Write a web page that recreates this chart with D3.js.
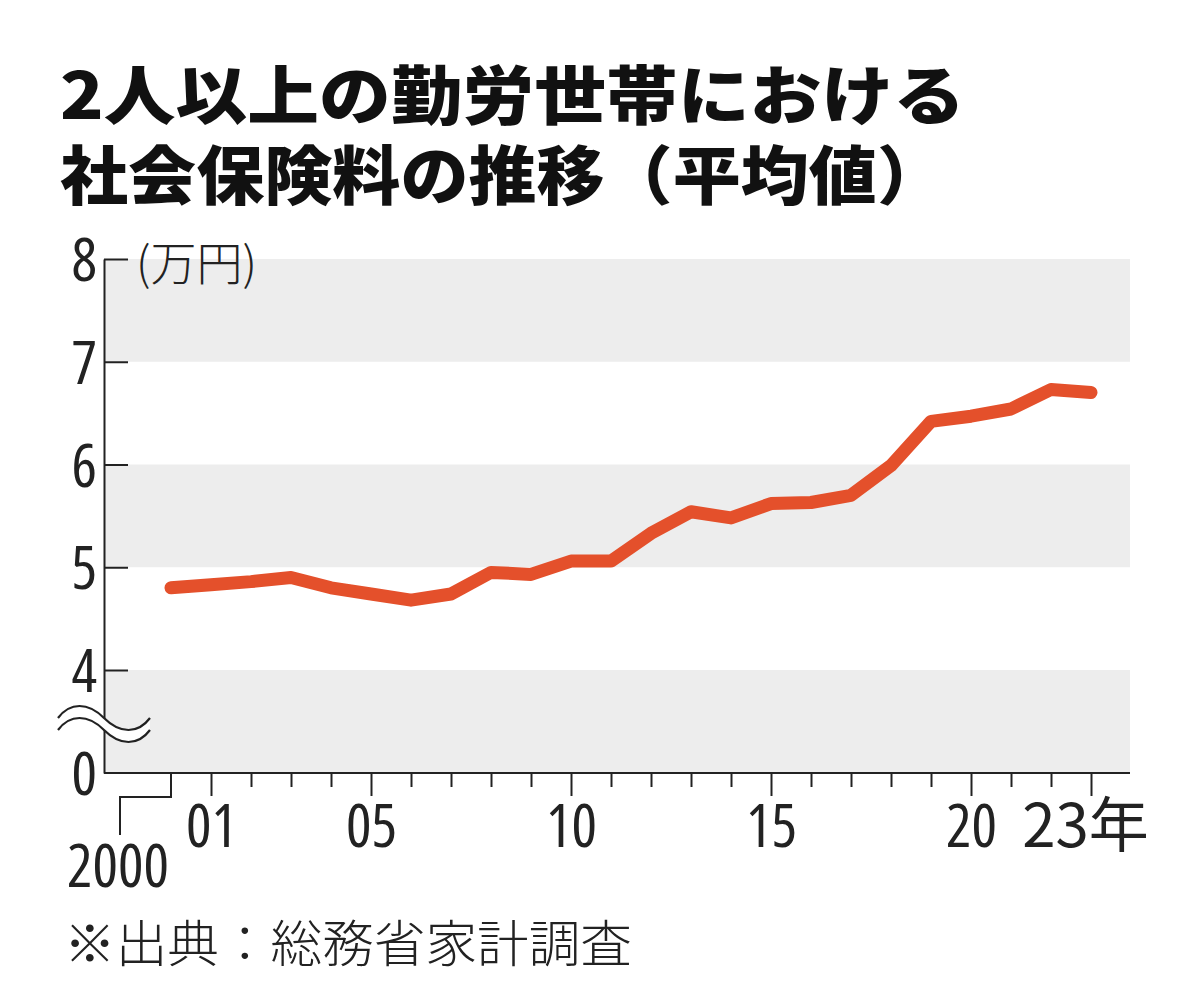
<!DOCTYPE html>
<html><head><meta charset="utf-8">
<script src="https://cdn.jsdelivr.net/npm/d3@7"></script>
<style>
html,body{margin:0;padding:0;background:#fff;}
svg{display:block;}
.num{font-family:"Open Sans","Liberation Sans",sans-serif;font-weight:380;font-stretch:87.5%;fill:#222;}
.jp{font-family:"Noto Sans CJK JP",sans-serif;}
</style></head>
<body>
<svg id="c" width="1200" height="1008"></svg>
<script>
const titleLines = ["2人以上の勤労世帯における", "社会保険料の推移（平均値）"];
const unitLabel = "(万円)";
const sourceNote = "※出典：総務省家計調査";
const years = [2000,2001,2002,2003,2004,2005,2006,2007,2008,2009,2010,2011,2012,2013,2014,2015,2016,2017,2018,2019,2020,2021,2022,2023];
const premiums = [4.80,4.83,4.86,4.90,4.80,4.74,4.68,4.74,4.95,4.93,5.06,5.06,5.33,5.54,5.48,5.62,5.63,5.70,5.99,6.42,6.47,6.54,6.73,6.70];
const yTicks = [0,4,5,6,7,8];
const bandRanges = [[7,8],[5,6],[0,4]];
const majorYears = [2001,2005,2010,2015,2020,2023];
const majorLabels = ["01","05","10","15","20","23年"];
const firstYearLabel = "2000";

const svg = d3.select("#c");
const x = d3.scaleLinear().domain([2000,2023]).range([171,1091]);
const y = d3.scaleLinear().domain([0,4,8]).range([773,670,259]);
const plotL = 104, plotR = 1130;

// title (one text element, two lines)
const title = svg.append("text").attr("class","jp")
  .attr("font-size",64).attr("font-weight",900).attr("fill","#111");
title.selectAll("tspan").data(titleLines).join("tspan")
  .attr("x",60).attr("y",(d,i)=>119+i*80)
  .attr("textLength",(d,i)=>i===0?905:885).attr("lengthAdjust","spacingAndGlyphs")
  .text(d=>d);

// bands
svg.append("g").selectAll("rect").data(bandRanges).join("rect")
  .attr("x",plotL+1).attr("width",plotR-plotL-1)
  .attr("y",d=>y(d[1])).attr("height",d=>y(d[0])-y(d[1]))
  .attr("fill","#ededed");

// y axis
const yAxis = svg.append("g").attr("transform",`translate(${plotL},0)`)
  .call(d3.axisLeft(y).tickValues(yTicks).tickSize(-24).tickSizeOuter(0).tickPadding(7).tickFormat(d3.format("d")));
yAxis.select(".domain").attr("stroke","#222").attr("stroke-width",2);
yAxis.selectAll(".tick line").attr("stroke","#222").attr("stroke-width",2)
  .filter(d=>d===0).remove();
yAxis.selectAll(".tick text").attr("class","num").attr("font-size",60).attr("fill","#222")
  .attr("dy","0.36em");

// unit
svg.append("text").attr("class","jp").attr("x",136).attr("y",280)
  .attr("font-size",46).attr("font-weight",300).attr("fill","#222").text(unitLabel);

// x axis line
svg.append("line").attr("x1",plotL).attr("x2",plotR).attr("y1",y(0)).attr("y2",y(0))
  .attr("stroke","#222").attr("stroke-width",2);

// minor ticks
const xMinor = svg.append("g").attr("transform",`translate(0,${y(0)})`)
  .call(d3.axisBottom(x).tickValues(years.filter(v=>v!==2000 && !majorYears.includes(v))).tickSize(14).tickFormat(""));
xMinor.select(".domain").remove();
xMinor.selectAll(".tick line").attr("stroke","#222").attr("stroke-width",2);

// major ticks
const xMajor = svg.append("g").attr("transform",`translate(0,${y(0)})`)
  .call(d3.axisBottom(x).tickValues(majorYears).tickSize(23).tickPadding(8)
    .tickFormat((d,i)=>majorLabels[i]));
xMajor.select(".domain").remove();
xMajor.selectAll(".tick line").attr("stroke","#222").attr("stroke-width",2);
xMajor.selectAll(".tick text").attr("class","num").attr("font-size",60).attr("fill","#222")
  .attr("dy","0.72em")
  .filter(d=>d===2023).attr("class","num jp").attr("dx",-6);

// 2000 bracket
const bx = x(2000);
svg.append("path")
  .attr("d",`M${bx},${y(0)}V${y(0)+24}H${bx-51}V${y(0)+62}`)
  .attr("fill","none").attr("stroke","#222").attr("stroke-width",2);
svg.append("text").attr("class","num").attr("x",bx-53).attr("y",y(0)+114)
  .attr("text-anchor","middle").attr("font-size",60).text(firstYearLabel);

// axis break symbol
const wave = (yy)=>`M58,${yy} C70,${yy-16} 88,${yy-16} 104,${yy} S138,${yy+16} 150,${yy}`;
svg.append("path").attr("d",wave(718)+` L150,730 `+
  `C138,${730+16} 120,${730+16} 104,730 S70,${730-16} 58,730 Z`)
  .attr("fill","#fff").attr("stroke","none");
svg.append("path").attr("d",wave(718)).attr("fill","none").attr("stroke","#222").attr("stroke-width",2.2);
svg.append("path").attr("d",wave(730)).attr("fill","none").attr("stroke","#222").attr("stroke-width",2.2);

// line
svg.append("path").datum(years.map((yr,i)=>[yr,premiums[i]]))
  .attr("d",d3.line().x(d=>x(d[0])).y(d=>y(d[1])))
  .attr("fill","none").attr("stroke","#e4502b").attr("stroke-width",13)
  .attr("stroke-linecap","round").attr("stroke-linejoin","round");

// source
svg.append("text").attr("class","jp").attr("x",64).attr("y",962)
  .attr("font-size",50).attr("font-weight",300).attr("fill","#222")
  .attr("textLength",568).attr("lengthAdjust","spacingAndGlyphs").text(sourceNote);
</script>
</body></html>
